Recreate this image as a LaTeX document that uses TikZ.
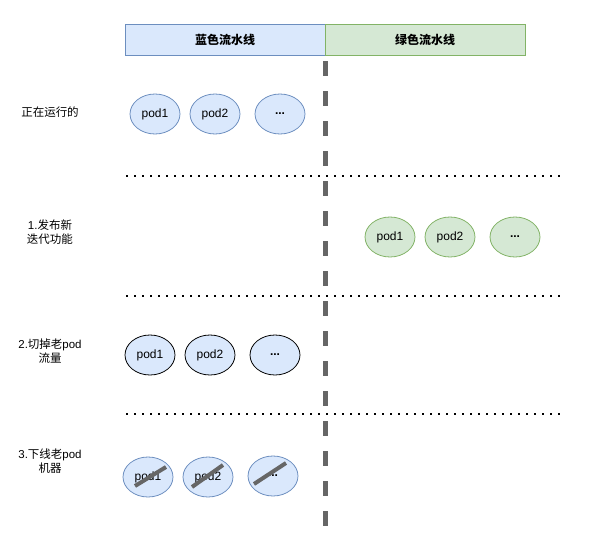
\documentclass[tikz,border=0pt]{standalone}
\usepackage{fontspec}
\setmainfont{Liberation Sans}
\newfontfamily\cjk{Noto Sans CJK SC}
\usetikzlibrary{shapes.geometric,calc}
\definecolor{bluefill}{HTML}{DAE8FC}
\definecolor{bluestroke}{HTML}{6C8EBF}
\definecolor{greenfill}{HTML}{D5E8D4}
\definecolor{greenstroke}{HTML}{82B366}
\definecolor{darkgray}{HTML}{666666}
\tikzset{
  hdrblue/.style={draw=bluestroke, fill=bluefill, line width=1pt, minimum width=200pt, minimum height=31pt, inner sep=0pt, font=\cjk\bfseries\fontsize{12}{14}\selectfont},
  hdrgreen/.style={draw=greenstroke, fill=greenfill, line width=1pt, minimum width=200pt, minimum height=31pt, inner sep=0pt, font=\cjk\bfseries\fontsize{12}{14}\selectfont},
  podblue/.style={ellipse, draw=bluestroke, fill=bluefill, line width=0.8pt, minimum width=50pt, minimum height=40pt, inner sep=0pt, font=\fontsize{12}{14}\selectfont},
  podgreen/.style={ellipse, draw=greenstroke, fill=greenfill, line width=0.8pt, minimum width=50pt, minimum height=40pt, inner sep=0pt, font=\fontsize{12}{14}\selectfont},
  podblack/.style={ellipse, draw=black, fill=bluefill, line width=0.8pt, minimum width=50pt, minimum height=40pt, inner sep=0pt, font=\fontsize{12}{14}\selectfont},
  steplabel/.style={align=center, inner sep=0pt, font=\fontsize{11.5}{14.5}\selectfont},
  divider/.style={line width=2pt, dash pattern=on 2pt off 6pt},
  splitline/.style={draw=darkgray, line width=4.5pt, dash pattern=on 15pt off 15pt},
  strike/.style={draw=darkgray, line width=4pt}
}
\begin{document}
\begin{tikzpicture}[x=1pt, y=-1pt]
\useasboundingbox (0,0) rectangle (595,546);
% header
\node[hdrblue] (hb) at (225,39.5) {蓝色流水线};
\node[hdrgreen] (hg) at (425,39.5) {绿色流水线};
% central dashed split
\coordinate (st) at (325.5,61);
\coordinate (sb) at (325.5,527);
\draw[splitline] (st) -- (sb);
% dotted dividers
\coordinate (d1a) at (126,176); \coordinate (d1b) at (560,176);
\coordinate (d2a) at (126,296); \coordinate (d2b) at (560,296);
\coordinate (d3a) at (126,414); \coordinate (d3b) at (560,414);
\draw[divider] (d1a) -- (d1b);
\draw[divider] (d2a) -- (d2b);
\draw[divider] (d3a) -- (d3b);
% left labels
\node[steplabel] (l0) at (50,112) {{\cjk 正在运行的}};
\node[steplabel] (l1) at (50,232) {1.{\cjk 发布新}\\{\cjk 迭代功能}};
\node[steplabel] (l2) at (50,351) {2.{\cjk 切掉老}pod\\{\cjk 流量}};
\node[steplabel] (l3) at (50,461) {3.{\cjk 下线老}pod\\{\cjk 机器}};
% row 0
\node[podblue] (p01) at (155,114) {pod1};
\node[podblue] (p02) at (215,114) {pod2};
\node[podblue] (p03) at (280,114) {\textbf{...}};
% row 1
\node[podgreen] (p11) at (390,237) {pod1};
\node[podgreen] (p12) at (450,237) {pod2};
\node[podgreen] (p13) at (515,237) {\textbf{...}};
% row 2
\node[podblack] (p21) at (150,355) {pod1};
\node[podblack] (p22) at (210,355) {pod2};
\node[podblack] (p23) at (275,355) {\textbf{...}};
% row 3
\node[podblue] (p31) at (148,477) {pod1};
\node[podblue] (p32) at (208,477) {pod2};
\node[podblue] (p33) at (273,476) {\textbf{...}};
\draw[strike] ($(p31)+(-13,9)$) -- ($(p31)+(18,-10)$);
\draw[strike] ($(p32)+(-16,10)$) -- ($(p32)+(15,-12)$);
\draw[strike] ($(p33)+(-19,8)$) -- ($(p33)+(13,-13)$);
\end{tikzpicture}
\end{document}
